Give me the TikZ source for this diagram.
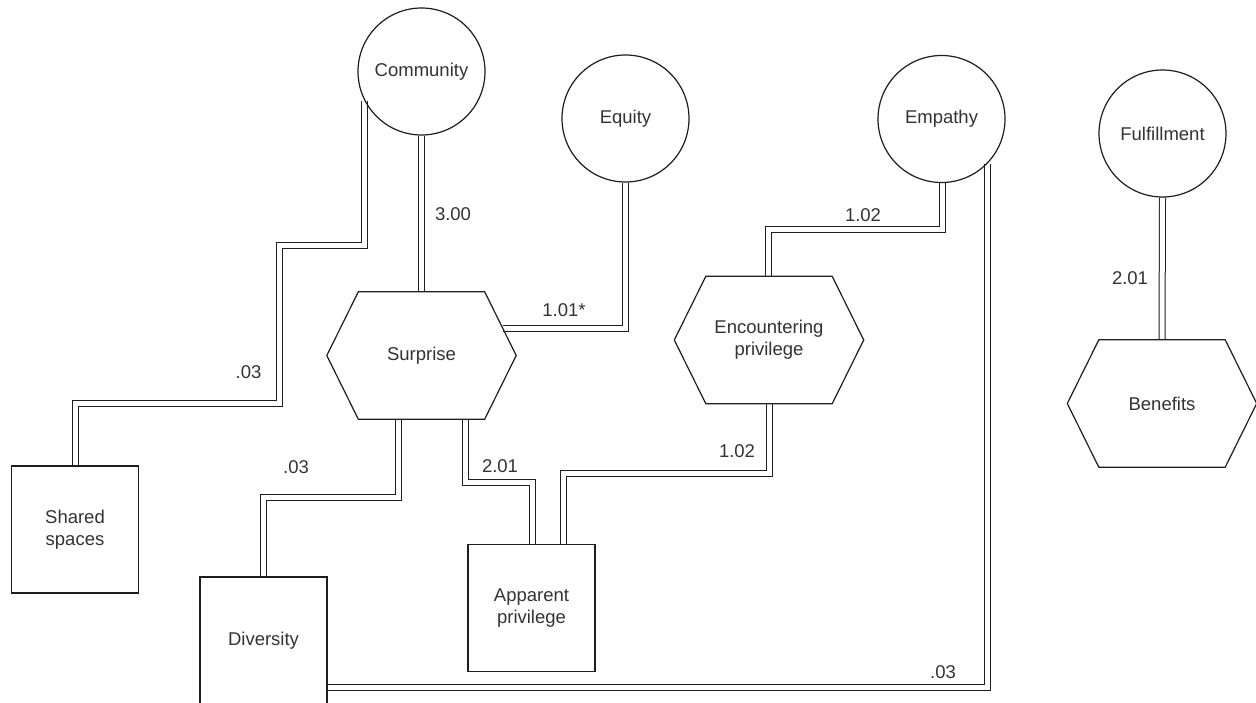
\documentclass[tikz,border=0pt]{standalone}
\usepackage{fontspec}
\setmainfont{Liberation Sans}
\usetikzlibrary{backgrounds}
\definecolor{txt}{RGB}{51,51,51}
\definecolor{ln}{RGB}{30,30,30}
\newcommand\hexoutline[1]{\draw[draw=ln, line width=1.2pt, line join=miter] (#1.west) -- ([xshift=31.5pt]#1.north west) -- ([xshift=-31.5pt]#1.north east) -- (#1.east) -- ([xshift=-31.5pt]#1.south east) -- ([xshift=31.5pt]#1.south west) -- cycle;}
\begin{document}
\begin{tikzpicture}[x=1pt,y=-1pt,
  every node/.style={font=\fontsize{18.5}{21.7}\selectfont, text=txt},
  circ/.style={circle, draw=ln, line width=1.2pt, minimum size=127pt, inner sep=0pt},
  sq/.style={rectangle, draw=ln, line width=1.2pt, minimum width=127pt, minimum height=127pt, inner sep=0pt, align=center},
  hexa/.style={rectangle, minimum width=189pt, minimum height=127pt, inner sep=0pt, align=center},
  link/.style={draw=ln, line width=1pt, double=white, double distance=5pt, line join=miter},
  lab/.style={inner sep=0pt}
]
\useasboundingbox (0,0) rectangle (1256,702);

% circles
\node[circ] (comm) at (421.5,71.5) {Community};
\node[circ] (equity) at (625.5,118.5) {Equity};
\node[circ] (empathy) at (941.5,119) {Empathy};
\node[circ] (fulfill) at (1162.5,133.5) {Fulfillment};

% hexagons
\node[hexa] (surprise) at (421.5,355.5) {Surprise};
\hexoutline{surprise}
\node[hexa] (enc) at (769,340) {Encountering\\privilege};
\hexoutline{enc}
\node[hexa] (benefits) at (1162,403.5) {Benefits};
\hexoutline{benefits}

% squares
\node[sq] (shared) at (75,529.5) {Shared\\spaces};
\node[sq] (diversity) at (263.5,640.5) {Diversity};
\node[sq] (apparent) at (531.5,608) {Apparent\\privilege};

\coordinate (surpR) at (502.7,328.7);

\begin{scope}[on background layer]
\fill[white] (0,0) rectangle (1256,702);
\draw[link] (comm.-153) |- (279.7,245) |- (shared.north |- 0,403) -- (shared.north);
\draw[link] (comm.south) -- (surprise.north);
\draw[link] (equity.south) |- (surpR);
\draw[link] ([xshift=-23.5pt]surprise.south) |- (diversity.north |- 0,497.5) -- (diversity.north);
\draw[link] ([xshift=44pt]surprise.south) |- ([xshift=0.5pt]apparent.north |- 0,482) -- ([xshift=0.5pt]apparent.north);
\draw[link] (enc.south) |- ([xshift=32pt]apparent.north |- 0,473.7) -- ([xshift=32pt]apparent.north);
\draw[link] ([xshift=0.5pt]empathy.south) |- ([xshift=-0.7pt]enc.north |- 0,229.3) -- ([xshift=-0.7pt]enc.north);
\draw[link] (empathy.-44.2) |- ([yshift=-46.5pt]diversity.east);
\draw[link] (fulfill.south) -- (benefits.north);
\end{scope}

% labels
\node[lab] (l300) at (453,214) {3.00};
\node[lab] (l101) at (564,310) {1.01*};
\node[lab] (l03a) at (248.5,372) {.03};
\node[lab] (l03b) at (296,467) {.03};
\node[lab] (l201a) at (500,466) {2.01};
\node[lab] (l102a) at (737,451) {1.02};
\node[lab] (l102b) at (863,215) {1.02};
\node[lab] (l03c) at (943,672) {.03};
\node[lab] (l201b) at (1130,278) {2.01};
\end{tikzpicture}
\end{document}
